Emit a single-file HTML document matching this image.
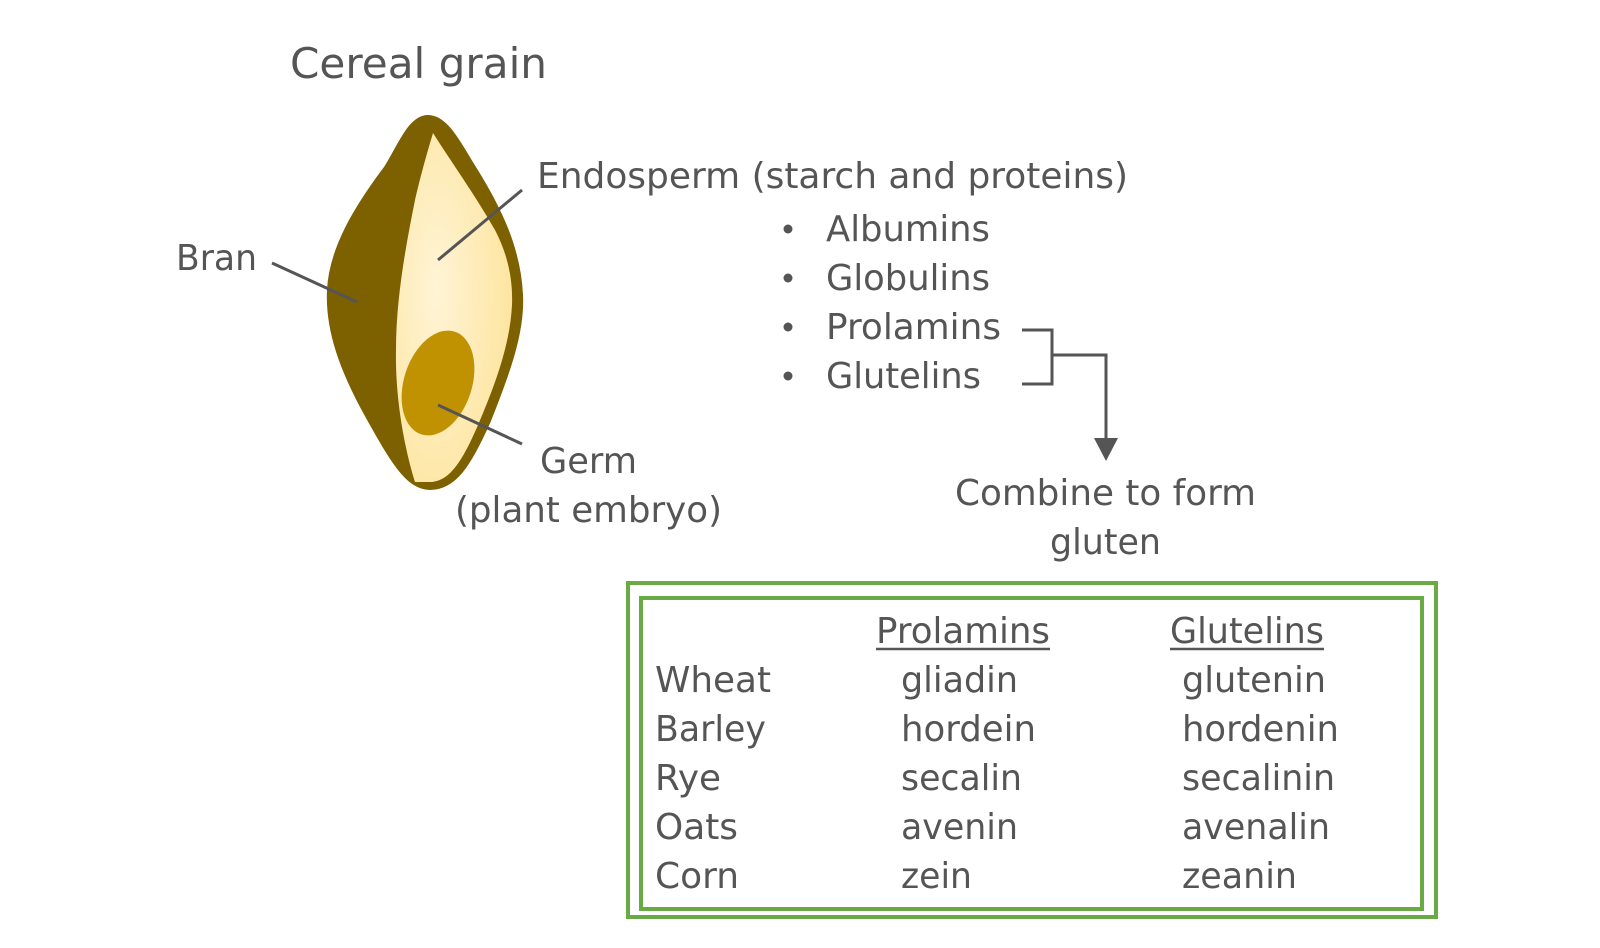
<!DOCTYPE html>
<html><head><meta charset="utf-8"><style>
html,body{margin:0;padding:0;background:#fff;}
svg{display:block;}
text{font-family:"DejaVu Sans","Liberation Sans",sans-serif;fill:#555;}
</style></head><body>
<svg width="1600" height="948" viewBox="0 0 1600 948" xmlns="http://www.w3.org/2000/svg">
<defs>
<radialGradient id="g" cx="0.35" cy="0.45" r="0.7">
<stop offset="0" stop-color="#fff4d6"/><stop offset="1" stop-color="#fde49c"/>
</radialGradient>
</defs>
<text x="290" y="78" font-size="42" textLength="257" lengthAdjust="spacingAndGlyphs">Cereal grain</text>
<!-- grain -->
<path d="M428,120 C445,120 458,148 472,170 C497,210 516,250 518,295 C520,330 506,370 486,420 C466,465 452,485 430,485 C410,485 395,460 370,415 C345,370 330,330 332,290 C334,250 358,210 388,170 C402,148 412,120 428,120 Z" fill="#7d6000" stroke="#7d6000" stroke-width="10" stroke-linejoin="round"/>
<path d="M433,133 C450,160 475,195 495,230 C508,255 513,280 512,305 C510,345 495,385 478,425 C462,462 450,480 432,482 L415,482 C405,450 395,400 396,350 C396,300 405,250 415,200 C422,170 428,150 433,133 Z" fill="url(#g)"/>
<ellipse cx="438" cy="383" rx="34" ry="54" transform="rotate(18 438 383)" fill="#c09100"/>
<g stroke="#555" stroke-width="3">
<line x1="438" y1="260" x2="522" y2="190"/>
<line x1="272" y1="263" x2="357" y2="302"/>
<line x1="438" y1="405" x2="522" y2="444"/>
</g>
<text x="176" y="270" font-size="36" textLength="81" lengthAdjust="spacingAndGlyphs">Bran</text>
<text x="537" y="188" font-size="36" textLength="591" lengthAdjust="spacingAndGlyphs">Endosperm (starch and proteins)</text>
<text x="540" y="473" font-size="36" textLength="97" lengthAdjust="spacingAndGlyphs">Germ</text>
<text x="455" y="522" font-size="36" textLength="267" lengthAdjust="spacingAndGlyphs">(plant embryo)</text>
<g font-size="36">
<circle cx="788" cy="229" r="4.5" fill="#555"/><text x="826" y="241" textLength="164" lengthAdjust="spacingAndGlyphs">Albumins</text>
<circle cx="788" cy="278" r="4.5" fill="#555"/><text x="826" y="290" textLength="164" lengthAdjust="spacingAndGlyphs">Globulins</text>
<circle cx="788" cy="327" r="4.5" fill="#555"/><text x="826" y="339" textLength="175" lengthAdjust="spacingAndGlyphs">Prolamins</text>
<circle cx="788" cy="376" r="4.5" fill="#555"/><text x="826" y="388" textLength="155" lengthAdjust="spacingAndGlyphs">Glutelins</text>
</g>
<g stroke="#555" stroke-width="3" fill="none">
<polyline points="1022,330 1052,330 1052,384 1022,384"/>
<polyline points="1052,355 1106,355 1106,440"/>
</g>
<polygon points="1094,438 1118,438 1106,461" fill="#555"/>
<text x="955" y="505" font-size="36" textLength="301" lengthAdjust="spacingAndGlyphs">Combine to form</text>
<text x="1050" y="554" font-size="36" textLength="111" lengthAdjust="spacingAndGlyphs">gluten</text>
<rect x="628" y="583" width="808" height="334" fill="none" stroke="#6aaa44" stroke-width="4"/>
<rect x="641" y="598" width="781" height="311" fill="none" stroke="#6aaa44" stroke-width="4"/>
<g font-size="36">
<text x="876" y="643" textLength="174" lengthAdjust="spacingAndGlyphs">Prolamins</text>
<line x1="876" y1="649" x2="1050" y2="649" stroke="#555" stroke-width="2.5"/>
<text x="1170" y="643" textLength="154" lengthAdjust="spacingAndGlyphs">Glutelins</text>
<line x1="1170" y1="649" x2="1324" y2="649" stroke="#555" stroke-width="2.5"/>
<text x="655" y="692" textLength="116" lengthAdjust="spacingAndGlyphs">Wheat</text>
<text x="901" y="692" textLength="117" lengthAdjust="spacingAndGlyphs">gliadin</text>
<text x="1182" y="692" textLength="144" lengthAdjust="spacingAndGlyphs">glutenin</text>
<text x="655" y="741" textLength="111" lengthAdjust="spacingAndGlyphs">Barley</text>
<text x="901" y="741" textLength="135" lengthAdjust="spacingAndGlyphs">hordein</text>
<text x="1182" y="741" textLength="157" lengthAdjust="spacingAndGlyphs">hordenin</text>
<text x="655" y="790" textLength="66" lengthAdjust="spacingAndGlyphs">Rye</text>
<text x="901" y="790" textLength="121" lengthAdjust="spacingAndGlyphs">secalin</text>
<text x="1182" y="790" textLength="153" lengthAdjust="spacingAndGlyphs">secalinin</text>
<text x="655" y="839" textLength="83" lengthAdjust="spacingAndGlyphs">Oats</text>
<text x="901" y="839" textLength="117" lengthAdjust="spacingAndGlyphs">avenin</text>
<text x="1182" y="839" textLength="148" lengthAdjust="spacingAndGlyphs">avenalin</text>
<text x="655" y="888" textLength="84" lengthAdjust="spacingAndGlyphs">Corn</text>
<text x="901" y="888" textLength="71" lengthAdjust="spacingAndGlyphs">zein</text>
<text x="1182" y="888" textLength="115" lengthAdjust="spacingAndGlyphs">zeanin</text>
</g>
</svg>
</body></html>
